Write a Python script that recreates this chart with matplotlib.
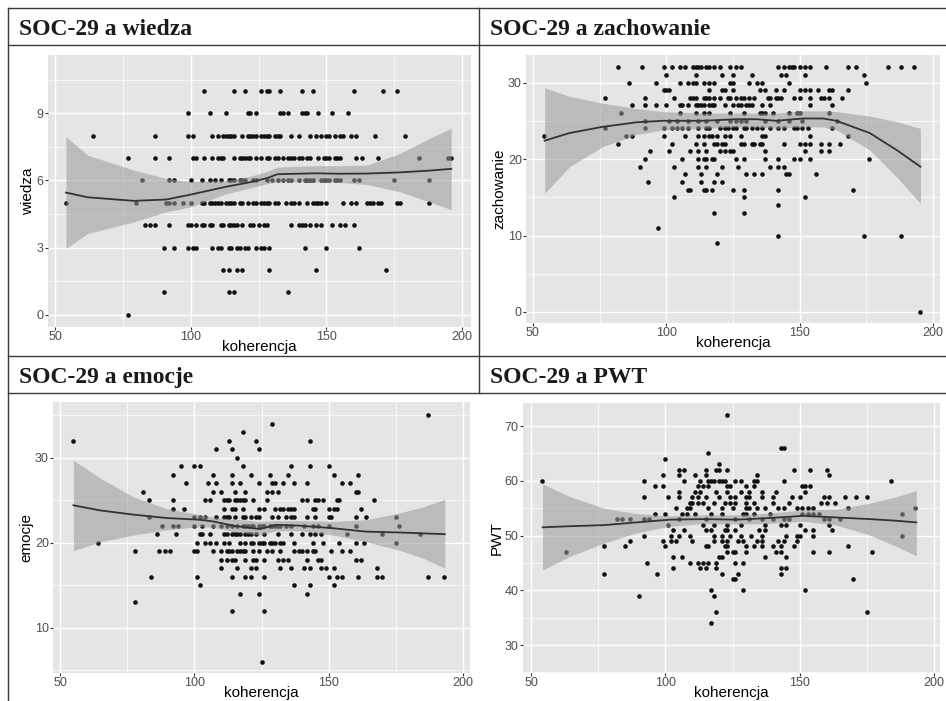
import matplotlib
matplotlib.use("Agg")
import matplotlib.pyplot as plt
from matplotlib.lines import Line2D
import numpy as np

# --- data (koherencja on x, score rows on y) ---
# each dict: score value -> koherencja values of the dots in that row
wiedza_rows = {
    10: [105, 116, 120, 126, 128, 129, 133, 141, 145, 160, 171, 176],
    9: [99, 107, 113, 121, 122, 124, 133, 134, 136, 141, 142, 143, 147, 152, 158],
    8: [64, 87, 99, 101, 108, 110, 112, 113, 114, 115, 116, 119, 121, 122, 123, 124, 126, 127,
        128, 129, 131, 132, 133, 137, 140, 144, 146, 148, 150, 151, 153, 155, 156, 159, 161, 168, 179],
    7: [77, 87, 92, 101, 102, 105, 108, 110, 111, 112, 116, 118, 119, 120, 121, 122, 124, 126, 128,
        129, 131, 132, 134, 136, 137, 138, 140, 141, 143, 144, 147, 149, 150, 151, 153, 154, 155,
        161, 163, 169, 184, 195, 196],
    6: [82, 92, 94, 100, 104, 107, 109, 111, 114, 115, 116, 118, 119, 120, 123, 124, 128, 130, 132,
        134, 136, 137, 140, 142, 143, 144, 145, 148, 149, 150, 151, 153, 154, 155, 160, 162, 175, 188],
    5: [54, 80, 91, 92, 94, 97, 100, 104, 105, 107, 108, 109, 110, 111, 113, 114, 115, 116, 118, 119,
        121, 123, 124, 126, 127, 128, 129, 131, 132, 135, 137, 138, 140, 143, 145, 146, 147, 148, 150,
        156, 159, 161, 165, 166, 167, 169, 170, 176, 177, 188],
    4: [83, 85, 87, 92, 99, 100, 102, 104, 105, 107, 108, 111, 112, 114, 115, 116, 117, 119, 122, 123,
        125, 127, 128, 137, 140, 141, 142, 144, 146, 148, 152, 155, 157, 160],
    3: [90, 94, 99, 101, 102, 108, 110, 111, 114, 115, 117, 118, 120, 121, 124, 126, 127, 129, 142, 150, 162],
    2: [112, 114, 117, 119, 129, 146, 172],
    1: [90, 114, 116, 136],
    0: [77],
}
wiedza_fit_x = [54, 62, 79, 91, 100, 113, 121, 128, 132, 146, 155, 165, 177, 188, 196]
wiedza_fit = [5.46, 5.25, 5.09, 5.15, 5.37, 5.72, 5.9, 6.1, 6.28, 6.32, 6.3, 6.31, 6.36, 6.44, 6.52]
wiedza_hi = [7.96, 7.13, 6.46, 6.09, 5.95, 6.0, 6.16, 6.39, 6.6, 6.66, 6.66, 6.69, 7.2, 7.88, 8.33]
wiedza_lo = [2.96, 3.63, 4.15, 4.6, 4.82, 5.4, 5.64, 5.85, 5.94, 5.94, 5.91, 5.82, 5.5, 5.04, 4.7]

zach_rows = {
    32: [82, 91, 99, 102, 105, 107, 110, 111, 112, 113, 115, 116, 118, 120, 124, 126, 128, 142, 144,
         146, 147, 148, 150, 152, 154, 160, 168, 171, 183, 188, 193],
    31: [100, 111, 121, 125, 132, 143, 145, 152, 174],
    30: [86, 96, 105, 108, 110, 111, 114, 116, 118, 124, 125, 131, 134, 136, 146, 175],
    29: [99, 100, 101, 116, 121, 122, 125, 135, 137, 141, 144, 150, 152, 154, 157, 161, 162, 168],
    28: [77, 92, 103, 109, 110, 111, 114, 115, 116, 118, 120, 123, 124, 126, 128, 129, 131, 133, 138,
         139, 141, 142, 143, 148, 150, 154, 158, 159, 161, 166],
    27: [87, 92, 96, 100, 105, 106, 108, 111, 112, 113, 114, 116, 117, 118, 122, 125, 127, 128, 130,
         131, 132, 136, 139, 154, 162],
    26: [83, 105, 111, 114, 116, 124, 129, 135, 136, 137, 140, 146, 149, 150, 161],
    25: [92, 101, 104, 108, 112, 115, 119, 124, 126, 128, 130, 137, 142, 146, 151, 164],
    24: [77, 92, 99, 102, 104, 106, 108, 112, 115, 116, 120, 122, 123, 125, 126, 129, 130, 132, 134,
         136, 139, 142, 144, 148, 149, 151, 153, 162],
    23: [54, 85, 87, 99, 107, 112, 114, 116, 117, 119, 122, 124, 128, 136, 137, 154, 168],
    22: [82, 102, 111, 114, 118, 119, 121, 122, 128, 129, 132, 133, 135, 136, 144, 150, 152, 154, 158, 161, 165],
    21: [94, 101, 109, 112, 115, 120, 122, 124, 125, 137, 152, 158, 161],
    20: [92, 106, 112, 114, 115, 117, 118, 126, 129, 137, 142, 148, 150, 154, 176],
    19: [90, 103, 112, 115, 121, 127, 139, 142, 144],
    18: [107, 113, 119, 130, 133, 136, 145, 146, 156],
    17: [93, 106, 113, 118, 121],
    16: [108, 109, 114, 115, 117, 125, 129, 142, 170],
    15: [103, 129, 152],
    14: [142],
    13: [118, 129],
    11: [97],
    10: [142, 174, 188],
    9: [119],
    0: [195],
}
zach_fit_x = [54.4, 63.75, 76, 88.75, 98.75, 113.75, 126.25, 133.75, 141.25, 151.25, 158.75, 163.75, 176.25, 186.25, 195.25]
zach_fit = [22.4, 23.4, 24.2, 24.8, 25.0, 25.0, 25.2, 25.2, 25.0, 25.3, 25.3, 25.0, 23.4, 21.2, 19.0]
zach_hi = [29.3, 28.2, 27.3, 26.6, 26.2, 26.0, 26.0, 26.0, 26.0, 26.3, 26.3, 26.2, 25.6, 24.9, 24.0]
zach_lo = [15.5, 19.0, 21.6, 23.2, 23.8, 24.0, 24.2, 24.2, 24.0, 24.2, 24.2, 23.8, 21.2, 17.7, 14.2]

emocje_rows = {
    35: [187],
    34: [129],
    33: [118],
    32: [55, 113, 123, 143],
    31: [108, 114, 124],
    30: [116],
    29: [95, 100, 102, 118, 136, 143, 150],
    28: [92, 107, 114, 121, 128, 135, 152, 161],
    27: [97, 105, 108, 114, 117, 124, 129, 130, 133, 137, 142, 155, 158],
    26: [81, 107, 110, 115, 119, 127, 129, 131, 160, 161],
    25: [83, 92, 104, 106, 111, 112, 113, 115, 116, 117, 118, 119, 122, 127, 140, 142, 145, 146, 148,
         153, 154, 167],
    24: [92, 96, 111, 114, 115, 118, 124, 126, 130, 132, 133, 135, 136, 137, 144, 145, 150, 152, 153, 162],
    23: [83, 100, 102, 104, 108, 111, 112, 113, 115, 118, 119, 121, 123, 124, 129, 131, 134, 136, 137,
         142, 145, 150, 151, 160, 164, 175],
    22: [88, 92, 94, 100, 103, 107, 110, 112, 114, 116, 118, 119, 120, 121, 122, 124, 125, 126, 128,
         129, 130, 131, 132, 134, 136, 141, 144, 146, 150, 160, 176],
    21: [86, 93, 102, 103, 106, 111, 112, 114, 115, 116, 117, 119, 120, 121, 123, 126, 131, 136, 140,
         143, 145, 147, 157, 170, 184],
    20: [64, 101, 104, 106, 108, 111, 113, 117, 119, 121, 122, 124, 125, 126, 128, 129, 130, 132, 133,
         137, 144, 148, 154, 160, 163, 175],
    19: [78, 87, 89, 91, 100, 101, 107, 110, 112, 113, 114, 116, 117, 118, 119, 122, 124, 127, 129,
         132, 137, 139, 140, 142, 144, 145, 151, 155, 158],
    18: [110, 112, 114, 115, 119, 122, 123, 126, 131, 133, 135, 142, 146, 147, 160, 162],
    17: [110, 116, 121, 123, 132, 136, 141, 143, 147, 149, 152, 168],
    16: [84, 101, 114, 119, 121, 126, 150, 153, 155, 161, 168, 170, 187, 193],
    15: [102, 137, 143, 152],
    14: [117, 124, 142],
    13: [78],
    12: [114, 126],
    6: [125],
}
emocje_fit_x = [55, 64.9, 77.3, 89.7, 102, 107, 114.5, 124.4, 130.6, 139.3, 151.6, 164, 176.4, 185, 193.2]
emocje_fit = [24.4, 23.8, 23.3, 22.9, 22.7, 22.5, 22.0, 21.6, 22.1, 22.0, 21.7, 21.3, 21.2, 21.1, 21.0]
emocje_hi = [29.7, 27.6, 25.4, 24.0, 23.3, 23.0, 22.8, 22.5, 22.6, 22.6, 22.5, 22.7, 23.5, 24.2, 25.1]
emocje_lo = [19.06, 20.1, 20.9, 21.5, 21.9, 21.8, 21.3, 20.9, 21.4, 21.4, 20.9, 20.1, 19.1, 18.2, 17.0]

pwt_rows = {
    72: [123],
    66: [143, 144],
    65: [116],
    64: [100],
    63: [120],
    62: [105, 107, 115, 119, 120, 123, 148, 154, 160],
    61: [99, 105, 111, 115, 134, 161],
    60: [54, 92, 107, 113, 116, 117, 118, 120, 121, 122, 126, 128, 133, 134, 144, 184],
    59: [96, 99, 112, 114, 116, 123, 124, 130, 133, 151, 152, 154],
    58: [105, 111, 113, 119, 123, 128, 131, 136, 141, 152],
    57: [92, 101, 105, 110, 112, 115, 120, 124, 126, 130, 131, 136, 140, 147, 150, 159, 161, 167, 171, 175],
    56: [109, 110, 112, 114, 118, 122, 124, 126, 130, 133, 140, 146, 158, 160, 163],
    55: [104, 108, 109, 116, 121, 125, 130, 131, 134, 137, 142, 144, 149, 151, 153, 155, 168, 193],
    54: [96, 100, 106, 108, 111, 117, 121, 129, 130, 133, 139, 151, 153, 155, 157, 188],
    53: [82, 84, 87, 92, 94, 105, 115, 126, 131, 136, 140, 144, 146, 159, 161, 165],
    52: [101, 114, 118, 123, 128, 137, 143, 145, 150, 161],
    51: [103, 107, 115, 117, 122, 123, 126, 135, 137, 152, 155, 162],
    50: [92, 102, 105, 109, 118, 121, 124, 128, 132, 136, 145, 149, 150, 155, 188],
    49: [87, 99, 102, 104, 110, 118, 121, 123, 127, 129, 134, 136, 142, 144, 149],
    48: [77, 85, 100, 115, 116, 122, 123, 130, 133, 136, 140, 143, 148, 168],
    47: [63, 123, 125, 126, 130, 141, 143, 155, 161, 177],
    46: [103, 106, 120, 121, 137, 145],
    45: [93, 109, 112, 114, 116, 119, 126, 129],
    44: [103, 113, 115, 119, 143, 145],
    43: [77, 97, 121, 127, 143],
    42: [125, 126, 170],
    40: [117, 129, 152],
    39: [90, 118],
    36: [119, 175],
    34: [117],
}
pwt_fit_x = [54.3, 64.5, 77, 89.3, 101.7, 114.1, 126.5, 138.9, 151.3, 163.7, 176, 186, 193.4]
pwt_fit = [51.5, 51.7, 51.9, 52.4, 52.9, 53.0, 52.9, 53.2, 53.6, 53.3, 53.0, 52.7, 52.4]
pwt_hi = [59.4, 57.1, 55.0, 54.0, 53.6, 53.8, 53.8, 54.1, 54.7, 54.8, 55.9, 57.1, 58.2]
pwt_lo = [43.7, 46.2, 48.6, 50.5, 51.7, 52.2, 52.1, 52.2, 52.6, 51.9, 50.1, 48.0, 46.3]

titles = ["SOC-29 a wiedza", "SOC-29 a zachowanie", "SOC-29 a emocje", "SOC-29 a PWT"]

W, H = 946, 701


def expand(rows):
    xs, ys = [], []
    for yv, xl in rows.items():
        xs += xl
        ys += [yv] * len(xl)
    return np.array(xs), np.array(ys)


def px_axes(fig, left, top, right, bottom):
    return fig.add_axes([left / W, 1 - bottom / H, (right - left) / W, (bottom - top) / H])


def draw_panel(ax, rows, fx, fy, lo, hi, ylabel, xlim, ylim, yticks):
    ax.set_facecolor("#E5E5E5")
    for s in ax.spines.values():
        s.set_visible(False)
    ax.set_xlim(*xlim)
    ax.set_ylim(*ylim)
    ax.set_xticks([50, 100, 150, 200])
    ax.set_xticks([75, 125, 175], minor=True)
    ax.set_yticks(yticks)
    step = yticks[1] - yticks[0]
    ymin = [v for v in np.arange(yticks[0] - step / 2, ylim[1], step) if v > ylim[0]]
    ax.set_yticks(ymin, minor=True)
    ax.grid(which="major", color="white", lw=1.0)
    ax.grid(which="minor", color="white", lw=0.5)
    ax.set_axisbelow(True)
    ax.tick_params(which="minor", length=0)
    ax.tick_params(which="major", length=2, width=0.8, color="#333333",
                   labelsize=9, labelcolor="#4D4D4D", pad=1)
    for lab in ax.get_xticklabels() + ax.get_yticklabels():
        lab.set_family("Liberation Sans")

    x, y = expand(rows)
    ax.scatter(x, y, s=11, color="#111111", lw=0, zorder=2)
    ax.fill_between(fx, lo, hi, color="#999999", alpha=0.55, lw=0, zorder=3)
    ax.plot(fx, fy, color="#333333", lw=1.3, zorder=4)

    ax.set_xlabel("koherencja", fontsize=11, family="Liberation Sans", labelpad=-2.5)
    ax.set_ylabel(ylabel, fontsize=11, family=["Liberation Sans Narrow", "Liberation Sans"], labelpad=1)


fig = plt.figure(figsize=(W / 100, H / 100), dpi=100)

ax1 = px_axes(fig, 48, 55, 471, 327)
draw_panel(ax1, wiedza_rows, wiedza_fit_x, wiedza_fit, wiedza_lo, wiedza_hi,
           "wiedza", (47.4, 203.3), (-0.54, 11.6), [0, 3, 6, 9])

ax2 = px_axes(fig, 526, 55, 940, 323)
draw_panel(ax2, zach_rows, zach_fit_x, zach_fit, zach_lo, zach_hi,
           "zachowanie", (47.4, 202.6), (-1.44, 33.6), [0, 10, 20, 30])

ax3 = px_axes(fig, 53, 402, 470, 673)
draw_panel(ax3, emocje_rows, emocje_fit_x, emocje_fit, emocje_lo, emocje_hi,
           "emocje", (47.4, 202.6), (4.67, 36.55), [10, 20, 30])

ax4 = px_axes(fig, 523, 403, 940, 673)
draw_panel(ax4, pwt_rows, pwt_fit_x, pwt_fit, pwt_lo, pwt_hi,
           "PWT", (47.0, 202.2), (24.9, 74.2), [30, 40, 50, 60, 70])

# table frame
def hline(y, x0=7.5, x1=W):
    fig.add_artist(Line2D([x0 / W, x1 / W], [1 - y / H, 1 - y / H], color="#3A3A3A", lw=1.0))


def vline(x, y0, y1):
    fig.add_artist(Line2D([x / W, x / W], [1 - y0 / H, 1 - y1 / H], color="#3A3A3A", lw=1.0))


for yy in [7.5, 45, 355.5, 392.5]:
    hline(yy)
vline(7.5, 7.5, H)
vline(479, 7.5, 355.5)
vline(479, 355.5, 392.5)

# header texts
for i, t in enumerate(titles):
    tx = 19 if i % 2 == 0 else 490
    ty = 35 if i < 2 else 383
    fig.text(tx / W, 1 - ty / H, t, fontsize=17, fontweight="bold",
             family="Liberation Serif", va="baseline", ha="left", color="#1A1A1A")

fig.savefig("out.png", dpi=100)
